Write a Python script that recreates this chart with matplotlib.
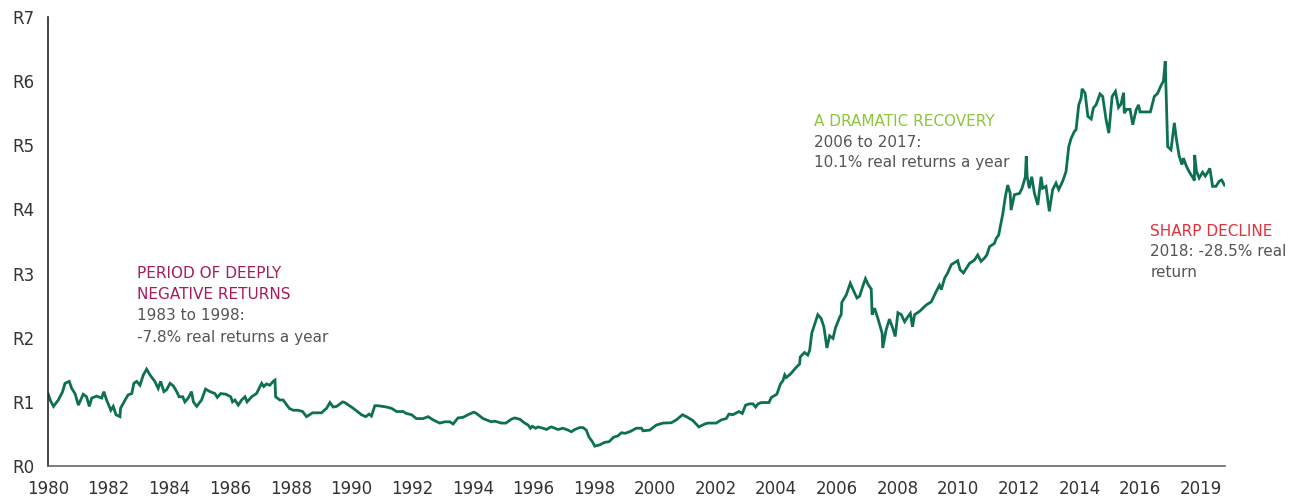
import matplotlib
matplotlib.use("Agg")
import matplotlib.pyplot as plt

plt.rcParams['font.family'] = ['DejaVu Sans']

# value of R1 invested in 1980 (real terms)
years = [
    1980.00, 1980.08, 1980.18, 1980.34, 1980.48, 1980.56, 1980.70, 1980.78, 1980.89, 1981.00,
    1981.16, 1981.27, 1981.36, 1981.44, 1981.60, 1981.77, 1981.84, 1981.93, 1982.07, 1982.15,
    1982.24, 1982.37, 1982.39, 1982.54, 1982.64, 1982.76, 1982.83, 1982.92, 1983.03, 1983.14,
    1983.25, 1983.36, 1983.52, 1983.63, 1983.71, 1983.82, 1983.91, 1984.02, 1984.13, 1984.24,
    1984.32, 1984.44, 1984.51, 1984.62, 1984.73, 1984.79, 1984.90, 1985.06, 1985.19, 1985.34,
    1985.50, 1985.58, 1985.69, 1985.86, 1986.02, 1986.08, 1986.16, 1986.27, 1986.38, 1986.49,
    1986.56, 1986.71, 1986.87, 1987.04, 1987.11, 1987.20, 1987.31, 1987.42, 1987.48, 1987.50,
    1987.64, 1987.75, 1987.95, 1988.08, 1988.24, 1988.39, 1988.52, 1988.72, 1989.01, 1989.18,
    1989.29, 1989.40, 1989.51, 1989.71, 1989.78, 1990.00, 1990.17, 1990.33, 1990.47, 1990.58,
    1990.66, 1990.77, 1990.88, 1991.16, 1991.32, 1991.49, 1991.70, 1991.81, 1991.98, 1992.14,
    1992.36, 1992.53, 1992.69, 1992.91, 1993.08, 1993.24, 1993.35, 1993.51, 1993.68, 1993.84,
    1994.03, 1994.12, 1994.34, 1994.50, 1994.61, 1994.72, 1994.94, 1995.09, 1995.27, 1995.38,
    1995.55, 1995.71, 1995.82, 1995.90, 1995.96, 1996.07, 1996.15, 1996.31, 1996.43, 1996.53,
    1996.59, 1996.81, 1996.97, 1997.14, 1997.25, 1997.36, 1997.52, 1997.63, 1997.74, 1997.83,
    1997.94, 1998.02, 1998.18, 1998.35, 1998.49, 1998.64, 1998.78, 1998.90, 1999.01, 1999.17,
    1999.39, 1999.56, 1999.61, 1999.83, 2000.05, 2000.27, 2000.54, 2000.71, 2000.91, 2001.04,
    2001.25, 2001.45, 2001.64, 2001.75, 2002.02, 2002.19, 2002.35, 2002.44, 2002.57, 2002.77,
    2002.88, 2002.99, 2003.12, 2003.23, 2003.32, 2003.40, 2003.51, 2003.76, 2003.84, 2004.02,
    2004.14, 2004.22, 2004.28, 2004.33, 2004.46, 2004.66, 2004.77, 2004.79, 2004.93, 2005.04,
    2005.10, 2005.17, 2005.26, 2005.37, 2005.48, 2005.57, 2005.67, 2005.76, 2005.87, 2005.95,
    2006.09, 2006.14, 2006.16, 2006.31, 2006.44, 2006.56, 2006.66, 2006.75, 2006.85, 2006.94,
    2007.04, 2007.13, 2007.16, 2007.24, 2007.35, 2007.49, 2007.51, 2007.62, 2007.73, 2007.84,
    2007.92, 2008.01, 2008.12, 2008.23, 2008.34, 2008.42, 2008.49, 2008.56, 2008.72, 2008.94,
    2009.11, 2009.27, 2009.38, 2009.44, 2009.55, 2009.65, 2009.77, 2009.98, 2010.06, 2010.17,
    2010.37, 2010.53, 2010.64, 2010.75, 2010.86, 2010.94, 2011.03, 2011.19, 2011.25, 2011.33,
    2011.47, 2011.55, 2011.63, 2011.71, 2011.74, 2011.85, 2012.02, 2012.10, 2012.21, 2012.24,
    2012.27, 2012.34, 2012.42, 2012.51, 2012.62, 2012.73, 2012.78, 2012.89, 2013.00, 2013.11,
    2013.22, 2013.31, 2013.44, 2013.55, 2013.64, 2013.72, 2013.83, 2013.88, 2013.97, 2014.05,
    2014.08, 2014.18, 2014.27, 2014.38, 2014.45, 2014.54, 2014.67, 2014.76, 2014.87, 2014.96,
    2015.07, 2015.18, 2015.28, 2015.36, 2015.45, 2015.47, 2015.55, 2015.66, 2015.75, 2015.86,
    2015.94, 2015.99, 2016.13, 2016.33, 2016.46, 2016.57, 2016.68, 2016.76, 2016.82, 2016.90,
    2017.01, 2017.12, 2017.19, 2017.28, 2017.37, 2017.42, 2017.52, 2017.63, 2017.74, 2017.78,
    2017.79, 2017.85, 2017.94, 2018.05, 2018.14, 2018.22, 2018.29, 2018.38, 2018.49, 2018.60,
    2018.68, 2018.77,
]
values = [
    1.13, 1.02, 0.93, 1.03, 1.16, 1.29, 1.32, 1.21, 1.13, 0.95,
    1.12, 1.08, 0.93, 1.06, 1.09, 1.06, 1.16, 1.03, 0.87, 0.93,
    0.80, 0.77, 0.90, 1.03, 1.11, 1.13, 1.29, 1.32, 1.26, 1.42,
    1.51, 1.42, 1.32, 1.21, 1.32, 1.16, 1.19, 1.29, 1.25, 1.16,
    1.08, 1.08, 1.00, 1.06, 1.16, 1.00, 0.93, 1.03, 1.20, 1.16,
    1.13, 1.07, 1.13, 1.12, 1.08, 1.00, 1.03, 0.95, 1.03, 1.08,
    1.00, 1.08, 1.13, 1.29, 1.24, 1.28, 1.26, 1.32, 1.34, 1.08,
    1.03, 1.03, 0.90, 0.87, 0.87, 0.85, 0.77, 0.83, 0.83, 0.90,
    0.99, 0.92, 0.93, 1.00, 0.99, 0.92, 0.86, 0.80, 0.77, 0.81,
    0.78, 0.94, 0.94, 0.92, 0.90, 0.85, 0.85, 0.82, 0.80, 0.74,
    0.74, 0.77, 0.72, 0.67, 0.69, 0.69, 0.655, 0.75, 0.76, 0.80,
    0.84, 0.82, 0.74, 0.71, 0.69, 0.70, 0.67, 0.67, 0.73, 0.75,
    0.73, 0.67, 0.64, 0.59, 0.62, 0.59, 0.61, 0.59, 0.57, 0.60,
    0.61, 0.57, 0.59, 0.56, 0.535, 0.57, 0.60, 0.60, 0.56, 0.45,
    0.38, 0.31, 0.33, 0.37, 0.38, 0.45, 0.47, 0.52, 0.51, 0.535,
    0.59, 0.59, 0.55, 0.56, 0.64, 0.67, 0.675, 0.72, 0.80, 0.77,
    0.71, 0.61, 0.655, 0.67, 0.67, 0.72, 0.74, 0.81, 0.80, 0.85,
    0.82, 0.95, 0.97, 0.97, 0.92, 0.97, 0.99, 0.99, 1.07, 1.12,
    1.28, 1.33, 1.42, 1.38, 1.43, 1.54, 1.59, 1.70, 1.77, 1.73,
    1.80, 2.07, 2.20, 2.36, 2.30, 2.17, 1.84, 2.03, 1.99, 2.15,
    2.32, 2.36, 2.55, 2.67, 2.85, 2.72, 2.62, 2.65, 2.80, 2.92,
    2.82, 2.76, 2.36, 2.46, 2.30, 2.07, 1.84, 2.12, 2.29, 2.15,
    2.02, 2.39, 2.36, 2.25, 2.33, 2.38, 2.17, 2.36, 2.41, 2.51,
    2.56, 2.72, 2.82, 2.75, 2.93, 3.01, 3.14, 3.20, 3.06, 3.01,
    3.16, 3.21, 3.29, 3.19, 3.24, 3.29, 3.42, 3.47, 3.55, 3.60,
    3.94, 4.20, 4.38, 4.25, 3.99, 4.23, 4.25, 4.33, 4.51, 4.83,
    4.51, 4.33, 4.51, 4.25, 4.07, 4.51, 4.33, 4.36, 3.97, 4.31,
    4.41, 4.31, 4.44, 4.59, 4.98, 5.11, 5.22, 5.24, 5.63, 5.74,
    5.88, 5.81, 5.45, 5.41, 5.58, 5.63, 5.80, 5.76, 5.40, 5.19,
    5.76, 5.84, 5.59, 5.64, 5.82, 5.50, 5.56, 5.56, 5.32, 5.55,
    5.63, 5.52, 5.52, 5.52, 5.76, 5.81, 5.93, 6.00, 6.31, 4.98,
    4.93, 5.35, 5.09, 4.83, 4.70, 4.80, 4.67, 4.57, 4.49, 4.45,
    4.85, 4.59, 4.49, 4.58, 4.52, 4.58, 4.64, 4.36, 4.36, 4.44,
    4.46, 4.38,
]

tick_years = list(range(1980, 2018, 2)) + [2018]
tick_labels = [str(y) for y in range(1980, 2018, 2)] + ['2019']
y_ticks = list(range(0, 8))
y_labels = ['R' + str(v) for v in y_ticks]

fig = plt.figure(figsize=(12.98, 4.99), dpi=100)
ax = fig.add_axes([0.037, 0.066, 0.907, 0.900])

ax.plot(years, values, color='#0d7052', linewidth=2.0, solid_joinstyle='miter')

ax.set_xlim(1980, 2018.8)
ax.set_ylim(0, 7)
ax.set_xticks(tick_years)
ax.set_xticklabels(tick_labels)
ax.set_yticks(y_ticks)
ax.set_yticklabels(y_labels)
ax.tick_params(axis='both', length=0, labelsize=12, colors='#333333')
ax.tick_params(axis='x', pad=10)
ax.tick_params(axis='y', pad=10)

for s in ['top', 'right']:
    ax.spines[s].set_visible(False)
ax.spines['left'].set_color('#222222')
ax.spines['left'].set_linewidth(1.2)
ax.spines['bottom'].set_color('#666666')
ax.spines['bottom'].set_linewidth(1.2)

grey = '#555555'
fs = 11

ax.text(1982.93, 3.00, 'PERIOD OF DEEPLY', color='#a51c5c', fontsize=fs, va='center')
ax.text(1982.93, 2.67, 'NEGATIVE RETURNS', color='#a51c5c', fontsize=fs, va='center')
ax.text(1982.93, 2.34, '1983 to 1998:', color=grey, fontsize=fs, va='center')
ax.text(1982.93, 2.01, '-7.8% real returns a year', color=grey, fontsize=fs, va='center')

ax.text(2005.23, 5.37, 'A DRAMATIC RECOVERY', color='#8cc63f', fontsize=fs, va='center')
ax.text(2005.23, 5.05, '2006 to 2017:', color=grey, fontsize=fs, va='center')
ax.text(2005.23, 4.73, '10.1% real returns a year', color=grey, fontsize=fs, va='center')

ax.text(2016.33, 3.65, 'SHARP DECLINE', color='#e0313c', fontsize=fs, va='center')
ax.text(2016.33, 3.34, '2018: -28.5% real', color=grey, fontsize=fs, va='center')
ax.text(2016.33, 3.01, 'return', color=grey, fontsize=fs, va='center')

fig.savefig('out.png', dpi=100)
